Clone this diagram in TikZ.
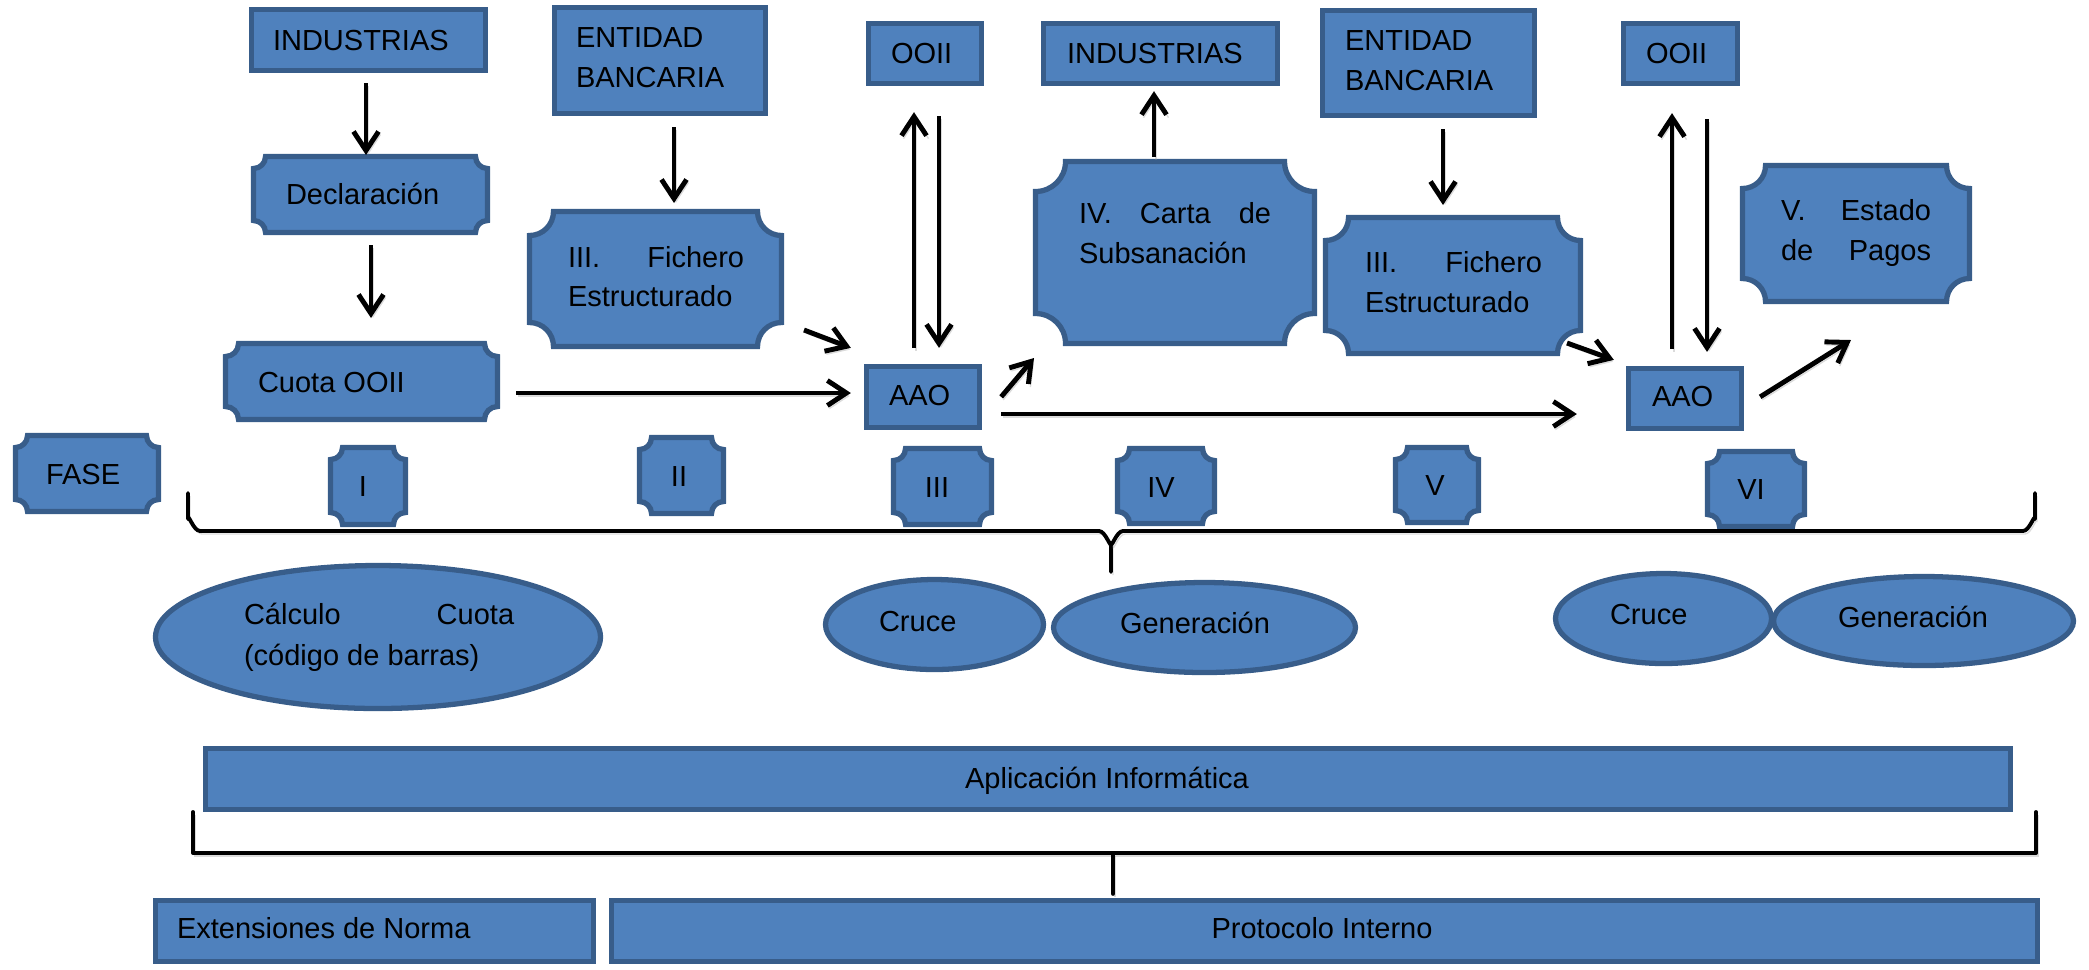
\documentclass[tikz,border=0pt]{standalone}
\usepackage{fontspec}
\setmainfont{Liberation Sans}
\usetikzlibrary{arrows.meta,calc,shapes.geometric}
\definecolor{boxfill}{HTML}{4F81BD}
\definecolor{boxline}{HTML}{385D8A}

\tikzset{
  box/.style={fill=boxfill, draw=boxline, line width=1.5pt},
  rectbox/.style={box, rectangle, inner sep=0},
  oval/.style={box, ellipse, inner sep=0},
  lbl/.style={inner sep=0, outer sep=0, anchor=base west, text=black,
              font=\fontsize{8.25}{10}\selectfont},
  clbl/.style={lbl, anchor=base},
  softshadow/.style={preaction={draw=black!40, opacity=0.35,
              transform canvas={shift={(0.02cm,-0.03cm)}}}},
  arr/.style={softshadow, line width=1.4pt,
              -{Straight Barb[length=0.19cm,width=0.25cm]}},
  bracket/.style={softshadow, line width=1.1pt, line cap=round, line join=round},
}

% rectangle box from its outer corners (pixel units, y downwards)
\newcommand\rbox[5]{%
  \node[rectbox, minimum width={(#4-#2-5)*0.01cm}, minimum height={(#5-#3-5)*0.01cm}]
    (#1) at ({(#2+#4)/2},{(#3+#5)/2}) {};}
% ellipse from its outer bounding box
\newcommand\obox[5]{%
  \node[oval, minimum width={(#4-#2-5)*0.01cm}, minimum height={(#5-#3-5)*0.01cm}]
    (#1) at ({(#2+#4)/2},{(#3+#5)/2}) {};}
% plaque (concave corners) from its outer corners and corner radius
\newcommand\plaque[6]{%
  \filldraw[box] ({#2+2.5+#6},{#3+2.5}) -- ({#4-2.5-#6},{#3+2.5})
    arc[start angle=180,end angle=90,radius=#6] -- ({#4-2.5},{#5-2.5-#6})
    arc[start angle=270,end angle=180,radius=#6] -- ({#2+2.5+#6},{#5-2.5})
    arc[start angle=360,end angle=270,radius=#6] -- ({#2+2.5},{#3+2.5+#6})
    arc[start angle=90,end angle=0,radius=#6] -- cycle;
  \node[inner sep=0, outer sep=0, minimum width={(#4-#2)*0.01cm},
        minimum height={(#5-#3)*0.01cm}] (#1) at ({(#2+#4)/2},{(#3+#5)/2}) {};}
% text line placed by the left end of its baseline
\newcommand\txt[4]{\node[lbl] (#1) at (#2,#3) {#4};}
\newcommand\ctxt[4]{\node[clbl] (#1) at (#2,#3) {#4};}

\begin{document}
\begin{tikzpicture}[x=0.01cm, y=-0.01cm]
\useasboundingbox (0,0) rectangle (2089,969);

% ---------- upper row of boxes ----------
\rbox{ind1}{249}{7}{488}{73}
\txt{t-ind1}{273}{50}{INDUSTRIAS}
\rbox{ent1}{552}{5}{768}{116}
\txt{t-ent1a}{576}{47}{ENTIDAD}
\txt{t-ent1b}{576}{87}{BANCARIA}
\plaque{decl}{251}{154}{490}{235}{12}
\txt{t-decl}{286}{204}{Declaración}
\plaque{cuota}{223}{341}{500}{422}{13}
\txt{t-cuota}{258}{392}{Cuota OOII}
\plaque{fich1}{527}{209}{784}{349}{24}
\txt{t-fich1a}{568}{267}{\hbox to 1.76cm{III.\hfill Fichero}}
\txt{t-fich1b}{568}{306}{Estructurado}
\rbox{ooii1}{866}{21}{984}{86}
\txt{t-ooii1}{891}{63}{OOII}
\rbox{aao1}{864}{364}{982}{430}
\txt{t-aao1}{889}{405}{AAO}
\rbox{ind2}{1041}{21}{1280}{86}
\txt{t-ind2}{1067}{63}{INDUSTRIAS}
\plaque{carta}{1033}{159}{1317}{346}{30}
\txt{t-carta-a}{1079}{223}{\hbox to 1.92cm{IV.\hfill Carta\hfill de}}
\txt{t-carta-b}{1079}{263}{Subsanación}
\rbox{ent2}{1320}{8}{1537}{118}
\txt{t-ent2a}{1345}{50}{ENTIDAD}
\txt{t-ent2b}{1345}{90}{BANCARIA}
\plaque{fich2}{1323}{215}{1583}{356}{23}
\txt{t-fich2a}{1365}{272}{\hbox to 1.77cm{III.\hfill Fichero}}
\txt{t-fich2b}{1365}{312}{Estructurado}
\rbox{ooii2}{1621}{21}{1740}{86}
\txt{t-ooii2}{1646}{63}{OOII}
\rbox{aao2}{1626}{366}{1744}{431}
\txt{t-aao2}{1652}{406}{AAO}
\plaque{estado}{1740}{163}{1972}{304}{23}
\txt{t-estado-a}{1781}{220}{\hbox to 1.50cm{V.\hfill Estado}}
\txt{t-estado-b}{1781}{260}{\hbox to 1.50cm{de\hfill Pagos}}

% ---------- arrows ----------
\draw[arr] ($(ind1.south)+(-2.5,10)$) -- ($(decl.north)+(-4.5,1)$);
\draw[arr] ($(decl.south)+(0.5,10)$) -- ($(cuota.north)+(9.5,-23)$);
\draw[arr] ($(ent1.south)+(14,11)$) -- ($(fich1.north)+(18.5,-6)$);
\draw[arr] ($(fich1.south east)+(20,-19)$) -- ($(aao1.north west)+(-13,-16)$);
\draw[arr] ($(cuota.east)+(16,11.5)$) -- ($(aao1.west)+(-13,-4)$);
\draw[arr] ($(aao1.north)+(-9,-16)$) -- ($(ooii1.south)+(-11,26)$);
\draw[arr] ($(ooii1.south)+(14,30)$) -- ($(aao1.north)+(16,-16)$);
\draw[arr] ($(aao1.north east)+(19,33)$) -- ($(carta.south west)+(1,12)$);
\draw[arr] ($(carta.north)+(-21,-2)$) -- ($(ind2.south)+(-6.5,5)$);
\draw[arr] ($(aao1.east)+(19,17)$) -- ($(aao2.west)+(-49,15.5)$);
\draw[arr] ($(ent2.south)+(14.5,11)$) -- ($(fich2.north)+(-10,-10)$);
\draw[arr] ($(fich2.south east)+(-16,-13)$) -- ($(aao2.north west)+(-12,-6)$);
\draw[arr] ($(aao2.north)+(-13,-17)$) -- ($(ooii2.south)+(-8.5,27)$);
\draw[arr] ($(ooii2.south)+(26.5,33)$) -- ($(aao2.north)+(22,-14)$);
\draw[arr] ($(aao2.north east)+(16,31)$) -- ($(estado.south)+(-5,36)$);

% ---------- phases ----------
\plaque{fase}{13}{433}{161}{514}{12}
\txt{t-fase}{46}{484}{FASE}
\plaque{ph1}{328}{445}{408}{527}{12}
\ctxt{t-ph1}{363}{496}{I}
\plaque{ph2}{637}{435}{726}{516}{12}
\ctxt{t-ph2}{679}{486}{II}
\plaque{ph3}{891}{446}{994}{527}{12}
\ctxt{t-ph3}{937}{497}{III}
\plaque{ph4}{1115}{446}{1217}{526}{12}
\ctxt{t-ph4}{1161}{497}{IV}
\plaque{ph5}{1393}{445}{1481}{525}{12}
\ctxt{t-ph5}{1435}{495}{V}
\plaque{ph6}{1705}{449}{1807}{529}{12}
\ctxt{t-ph6}{1751}{499}{VI}

% brace below the phases
\draw[bracket] (188,493) -- (188,519) to[out=90,in=180] (200,531) -- (1099,531)
  to[out=0,in=-90] (1111,543) -- (1111,572);
\draw[bracket] (1111,543) to[out=-90,in=180] (1123,531) -- (2023,531)
  to[out=0,in=90] (2035,519) -- (2035,493);

% ---------- operations ----------
\obox{calc}{153}{563}{603}{711}
\txt{t-calc-a}{244}{624}{\hbox to 2.70cm{Cálculo\hfill Cuota}}
\txt{t-calc-b}{244}{665}{(código de barras)}
\obox{cruce1}{823}{577}{1046}{672}
\txt{t-cruce1}{879}{631}{Cruce}
\obox{gen1}{1051}{580}{1358}{675}
\txt{t-gen1}{1120}{633}{Generación}
\obox{cruce2}{1553}{571}{1774}{666}
\txt{t-cruce2}{1610}{624}{Cruce}
\obox{gen2}{1771}{574}{2076}{668}
\txt{t-gen2}{1838}{627}{Generación}

% ---------- application and its basis ----------
\rbox{aplic}{203}{746}{2013}{812}
\ctxt{t-aplic}{1107}{788}{Aplicación Informática}
\rbox{ext}{153}{898}{596}{964}
\txt{t-ext}{177}{938}{Extensiones de Norma}
\rbox{prot}{609}{898}{2040}{964}
\ctxt{t-prot}{1322}{938}{Protocolo Interno}

\coordinate (stem) at (1113,853);
\draw[bracket] (193,812) -- (193,853) -- (2036,853) -- (2036,812);
\draw[bracket] (stem) -- ($(prot.north)+(-211.5,-4)$);
\end{tikzpicture}
\end{document}
